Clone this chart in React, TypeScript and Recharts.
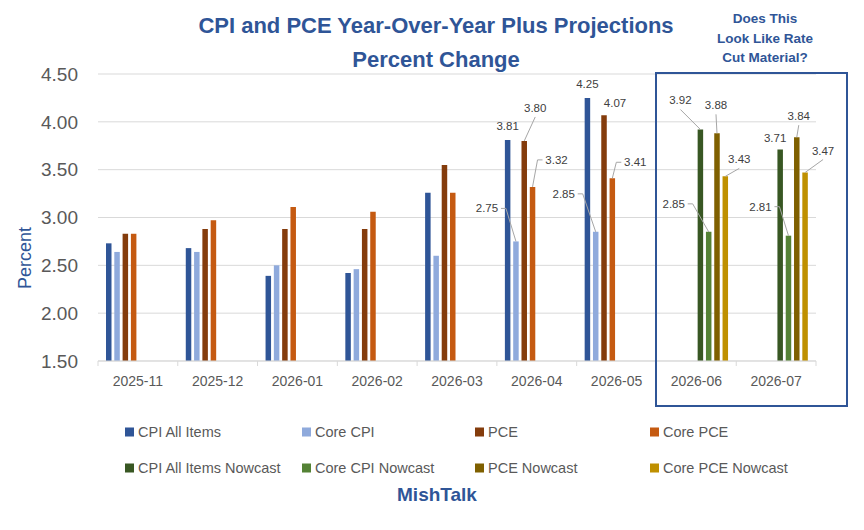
import React from "react";
import {
  BarChart,
  Bar,
  XAxis,
  YAxis,
  CartesianGrid,
  LabelList,
} from "recharts";

// values
const categories = [
  "2025-11",
  "2025-12",
  "2026-01",
  "2026-02",
  "2026-03",
  "2026-04",
  "2026-05",
  "2026-06",
  "2026-07",
];
const cpiAllItems = [2.73, 2.68, 2.39, 2.42, 3.26, 3.81, 4.25, null, null];
const coreCpi = [2.64, 2.64, 2.5, 2.46, 2.6, 2.75, 2.85, null, null];
const pce = [2.83, 2.88, 2.88, 2.88, 3.55, 3.8, 4.07, null, null];
const corePce = [2.83, 2.97, 3.11, 3.06, 3.26, 3.32, 3.41, null, null];
const cpiNowcast = [null, null, null, null, null, null, null, 3.92, 3.71];
const coreCpiNowcast = [null, null, null, null, null, null, null, 2.85, 2.81];
const pceNowcast = [null, null, null, null, null, null, null, 3.88, 3.84];
const corePceNowcast = [null, null, null, null, null, null, null, 3.43, 3.47];
const yTicks = [1.5, 2.0, 2.5, 3.0, 3.5, 4.0, 4.5];

const series = [
  { key: "cpi", name: "CPI All Items", color: "#2f5597", values: cpiAllItems },
  { key: "coreCpi", name: "Core CPI", color: "#8faadc", values: coreCpi },
  { key: "pce", name: "PCE", color: "#843c0c", values: pce },
  { key: "corePce", name: "Core PCE", color: "#c55a11", values: corePce },
  { key: "cpiNow", name: "CPI All Items Nowcast", color: "#385723", values: cpiNowcast },
  { key: "coreCpiNow", name: "Core CPI Nowcast", color: "#548235", values: coreCpiNowcast },
  { key: "pceNow", name: "PCE Nowcast", color: "#7f6000", values: pceNowcast },
  { key: "corePceNow", name: "Core PCE Nowcast", color: "#bf9000", values: corePceNowcast },
];

const data = categories.map((c, i) => {
  const row: Record<string, string | number | null> = { name: c };
  series.forEach((s) => {
    row[s.key] = s.values[i];
  });
  return row;
});

// where each data label sits relative to its bar top: [dx, dy, leader]
type Leader = "none" | "left" | "right" | "bottom";
const labelSpots: Record<string, Record<string, [number, number, Leader]>> = {
  cpi: { "2026-04": [0, -14, "none"], "2026-05": [0, -14, "none"] },
  coreCpi: { "2026-04": [-29, -33, "right"], "2026-05": [-32, -38, "right"] },
  pce: { "2026-04": [11, -33, "bottom"], "2026-05": [11, -12, "none"] },
  corePce: { "2026-04": [24, -27, "left"], "2026-05": [23, -16, "left"] },
  cpiNow: { "2026-06": [-20, -29, "bottom"], "2026-07": [-5, -12, "none"] },
  coreCpiNow: { "2026-06": [-35, -28, "right"], "2026-07": [-28, -29, "right"] },
  pceNow: { "2026-06": [-1, -28, "bottom"], "2026-07": [2, -21, "bottom"] },
  corePceNow: { "2026-06": [14, -17, "bottom"], "2026-07": [18, -22, "bottom"] },
};

const FONT = "'Liberation Sans', Arial, sans-serif";
const BLUE = "#2f5597";
const GREY = "#595959";
const LINE = "#d9d9d9";

const W = 864;
const H = 530;
const Y_AXIS_W = 60;
const margin = { top: 74, right: 48, bottom: 139, left: 38 };
const plotLeft = margin.left + Y_AXIS_W;
const plotW = W - plotLeft - margin.right;
const band = plotW / categories.length;

const renderLabel = (key: string) => (p: any) => {
  const { x, y, width, value } = p;
  if (value == null) return null;
  const bx = Number(x) + Number(width) / 2;
  const by = Number(y);
  const cat = categories[Math.floor((bx - plotLeft) / band)];
  const spot = labelSpots[key]?.[cat];
  if (!spot) return null;
  const [dx, dy, leader] = spot;
  const tx = bx + dx;
  const ty = by + dy;
  const hw = 11;
  let pts = "";
  if (leader === "right") {
    pts = `${tx + hw + 3},${ty} ${tx + hw + 8},${ty} ${bx},${by}`;
  } else if (leader === "left") {
    pts = `${tx - hw - 3},${ty} ${tx - hw - 8},${ty} ${bx},${by}`;
  } else if (leader === "bottom") {
    pts = `${tx},${ty + 9} ${bx},${by}`;
  }
  return (
    <g key={`${key}-${cat}`}>
      {pts && <polyline points={pts} fill="none" stroke="#a6a6a6" strokeWidth={1} />}
      <text
        x={tx}
        y={ty}
        textAnchor="middle"
        dominantBaseline="central"
        fontSize={11.5}
        fontFamily={FONT}
        fill="#404040"
      >
        {Number(value).toFixed(2)}
      </text>
    </g>
  );
};

const XTick = (props: any) => {
  const { x, y, payload, index } = props;
  const left = x - band / 2;
  return (
    <g>
      <line x1={left} y1={y} x2={left} y2={y + 5} stroke={LINE} />
      {index === categories.length - 1 && (
        <line x1={left + band} y1={y} x2={left + band} y2={y + 5} stroke={LINE} />
      )}
      <text
        x={x}
        y={y + 25}
        textAnchor="middle"
        fontSize={14}
        fontFamily={FONT}
        fill={GREY}
      >
        {payload.value}
      </text>
    </g>
  );
};

const legendCols = [125, 302, 475, 650];
const legendRows = [432, 468];

const Overlay = () => (
  <svg
    width={W}
    height={H}
    style={{ position: "absolute", left: 0, top: 0, pointerEvents: "none" }}
  >
    <g fontFamily={FONT} fontWeight="bold" fill={BLUE} textAnchor="middle">
      <text x={436} y={33} fontSize={22}>
        CPI and PCE Year-Over-Year Plus Projections
      </text>
      <text x={436} y={67} fontSize={22}>
        Percent Change
      </text>
      <text x={765} y={23} fontSize={13.5}>
        Does This
      </text>
      <text x={765} y={43} fontSize={13.5}>
        Look Like Rate
      </text>
      <text x={765} y={62} fontSize={13.5}>
        Cut Material?
      </text>
      <text x={437} y={501} fontSize={19}>
        MishTalk
      </text>
    </g>
    <text
      x={0}
      y={0}
      transform="translate(31 258) rotate(-90)"
      textAnchor="middle"
      fontSize={18}
      fontFamily={FONT}
      fill={BLUE}
    >
      Percent
    </text>
    <rect x={656} y={73} width={191} height={333} fill="none" stroke={BLUE} strokeWidth={2} />
    {series.map((s, i) => {
      const cx = legendCols[i % 4];
      const cy = legendRows[Math.floor(i / 4)];
      return (
        <g key={s.key}>
          <rect x={cx} y={cy - 4.5} width={9} height={9} fill={s.color} />
          <text
            x={cx + 13}
            y={cy}
            dominantBaseline="central"
            fontSize={14.5}
            fontFamily={FONT}
            fill={GREY}
          >
            {s.name}
          </text>
        </g>
      );
    })}
  </svg>
);

export default function App() {
  return (
    <div
      style={{
        position: "absolute",
        left: 0,
        top: 0,
        width: W,
        height: H,
        background: "#fff",
      }}
    >
      <BarChart
        width={W}
        height={H}
        data={data}
        margin={margin}
        barSize={5.5}
        barGap={2.8}
      >
        <CartesianGrid vertical={false} stroke={LINE} />
        <XAxis
          dataKey="name"
          height={30}
          interval={0}
          axisLine={{ stroke: LINE }}
          tickLine={false}
          tickSize={0}
          tickMargin={0}
          tick={<XTick />}
        />
        <YAxis
          width={Y_AXIS_W}
          domain={[1.5, 4.5]}
          ticks={yTicks}
          allowDataOverflow
          axisLine={false}
          tickLine={false}
          tickSize={0}
          tickMargin={20}
          tickFormatter={(v: number) => v.toFixed(2)}
          tick={{ fontSize: 19, fill: GREY, fontFamily: FONT }}
        />
        {series.map((s) => (
          <Bar
            key={s.key}
            dataKey={s.key}
            name={s.name}
            fill={s.color}
            isAnimationActive={false}
          >
            <LabelList dataKey={s.key} content={renderLabel(s.key)} />
          </Bar>
        ))}
      </BarChart>
      <Overlay />
    </div>
  );
}
